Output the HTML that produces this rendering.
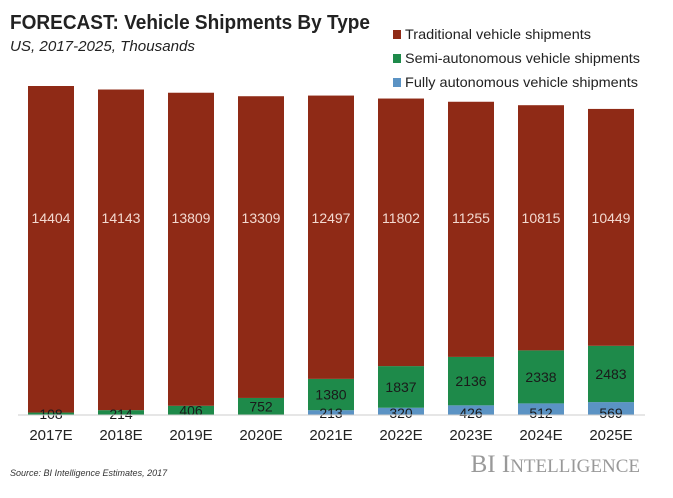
<!DOCTYPE html>
<html><head><meta charset="utf-8"><style>
body{margin:0;background:#fff;font-family:"Liberation Sans",sans-serif;}
</style></head><body>
<svg width="673" height="493" xmlns="http://www.w3.org/2000/svg">
<text x="10" y="29" font-size="20" font-weight="bold" fill="#222" textLength="360" lengthAdjust="spacingAndGlyphs">FORECAST: Vehicle Shipments By Type</text>
<text x="10" y="51" font-size="15" font-style="italic" fill="#222" textLength="185" lengthAdjust="spacingAndGlyphs">US, 2017-2025, Thousands</text>
<g id="bars"></g>
<g>
<rect x="393" y="30" width="8" height="9" fill="#8f2a16"/>
<text x="405" y="39" font-size="14" fill="#222" textLength="186" lengthAdjust="spacingAndGlyphs">Traditional vehicle shipments</text>
<rect x="393" y="54" width="8" height="9" fill="#1e8a4a"/>
<text x="405" y="63" font-size="14" fill="#222" textLength="235" lengthAdjust="spacingAndGlyphs">Semi-autonomous vehicle shipments</text>
<rect x="393" y="78" width="8" height="9" fill="#5b93c4"/>
<text x="405" y="87" font-size="14" fill="#222" textLength="233" lengthAdjust="spacingAndGlyphs">Fully autonomous vehicle shipments</text>
</g>
<line x1="18" y1="415" x2="645" y2="415" stroke="#ccc" stroke-width="1"/>
<text x="10" y="476" font-size="9" font-style="italic" fill="#333">Source: BI Intelligence Estimates, 2017</text>
<text x="640" y="472" font-size="25" text-anchor="end" fill="#999" font-family="Liberation Serif,serif">BI I<tspan font-size="19">NTELLIGENCE</tspan></text>
</svg>
<script>
const categories=["2017E","2018E","2019E","2020E","2021E","2022E","2023E","2024E","2025E"];
const traditional=[14404,14143,13809,13309,12497,11802,11255,10815,10449];
const semi=[108,214,406,752,1380,1837,2136,2338,2483];
const fully=[0,0,0,0,213,320,426,512,569];
const fullyLabels=["","","","","213","320","426","512","569"];
const NS="http://www.w3.org/2000/svg";
const g=document.getElementById("bars");
const base=415, k=329/14512;
const xC=i=>51+i*70;
const yS=v=>v*k;
function rect(x,y,w,h,fill){const r=document.createElementNS(NS,"rect");r.setAttribute("x",x);r.setAttribute("y",y);r.setAttribute("width",w);r.setAttribute("height",Math.max(0,h));r.setAttribute("fill",fill);g.appendChild(r);return r;}
function txt(x,y,s,fill){const t=document.createElementNS(NS,"text");t.setAttribute("x",x);t.setAttribute("y",y);t.setAttribute("font-size","14");t.setAttribute("text-anchor","middle");t.setAttribute("fill",fill);t.textContent=s;g.appendChild(t);return t;}
categories.forEach((c,i)=>{
 const x=xC(i)-23,w=46;
 let y=base;
 const hf=yS(fully[i]);y-=hf;
 const rf=rect(x,y,w,hf,"#5b93c4");
 
 
 const hs=yS(semi[i]);y-=hs;
 const rs=rect(x,y,w,hs,"#1e8a4a");
 
 
 const semiTop=y;
 const ht=yS(traditional[i]);y-=ht;
 const rt=rect(x,y,w,ht,"#8f2a16");
 
 
 const lt=txt(xC(i),223,String(traditional[i]),"#f3d9d0");
 
 
 const sy=fully[i]>0?(semiTop+(base-hf))/2+5:(semi[i]<300?base+4:(semiTop+base)/2+5);
 const ls=txt(xC(i),sy,String(semi[i]),"#1a1a1a");
 
 
 if(fullyLabels[i]){
  const lf=txt(xC(i),base+3,fullyLabels[i],"#1a1a1a");
  
  
 }
 const lc=txt(xC(i),440,c,"#222");
 lc.setAttribute('font-size','15');
 
 
});
</script>
</body></html>
